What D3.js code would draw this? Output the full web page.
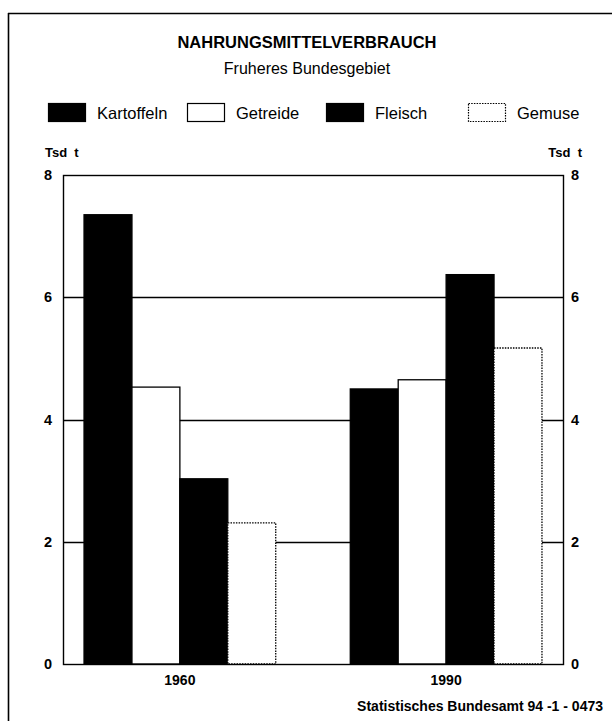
<!DOCTYPE html>
<html>
<head>
<meta charset="utf-8">
<script src="https://cdn.jsdelivr.net/npm/d3@7"></script>
<style>
  html, body { margin: 0; padding: 0; background: #fff; }
  svg { display: block; font-family: "Liberation Sans", Arial, Helvetica, sans-serif; }
</style>
</head>
<body>
<svg id="chart" width="612" height="721"></svg>
<script>
// ---- data ----
const years = ["1960", "1990"];
const series = ["Kartoffeln", "Getreide", "Fleisch", "Gemuse"];
const kartoffeln = [7.35, 4.50];
const getreide   = [4.53, 4.65];
const fleisch    = [3.03, 6.37];
const gemuse     = [2.31, 5.17];
const yTicks = [0, 2, 4, 6, 8];
const title = "NAHRUNGSMITTELVERBRAUCH";
const subtitle = "Fruheres Bundesgebiet";
const unitLabel = "Tsd  t";
const sourceText = "Statistisches Bundesamt 94 -1 - 0473";

const values = { Kartoffeln: kartoffeln, Getreide: getreide, Fleisch: fleisch, Gemuse: gemuse };
const styles = {
  Kartoffeln: { fill: "#000", stroke: "#000", dash: null },
  Getreide:   { fill: "#fff", stroke: "#000", dash: null },
  Fleisch:    { fill: "#000", stroke: "#000", dash: null },
  Gemuse:     { fill: "#fff", stroke: "#000", dash: "1.5,1.2" }
};

const svg = d3.select("#chart");
const W = 612, H = 721;
const plot = { left: 63, right: 563, top: 175, bottom: 664 };

// outer frame
svg.append("line").attr("x1", 8.5).attr("x2", 8.5).attr("y1", 13).attr("y2", H)
  .attr("stroke", "#000").attr("stroke-width", 1.6);
svg.append("line").attr("x1", 8).attr("x2", W).attr("y1", 13.5).attr("y2", 13.5)
  .attr("stroke", "#000").attr("stroke-width", 1.6);

// titles
svg.append("text").attr("x", 307).attr("y", 48).attr("text-anchor", "middle")
  .attr("font-size", 16.5).attr("font-weight", "bold").text(title);
svg.append("text").attr("x", 307).attr("y", 74).attr("text-anchor", "middle")
  .attr("font-size", 16).text(subtitle);

// legend
const legendX = [48, 187, 326, 468];
series.forEach((s, i) => {
  const g = svg.append("g").attr("transform", `translate(${legendX[i]},103)`);
  g.append("rect").attr("x", 0.5).attr("y", 0.5).attr("width", 37).attr("height", 18)
    .attr("fill", styles[s].fill).attr("stroke", styles[s].stroke)
    .attr("stroke-width", 1.2).attr("stroke-dasharray", styles[s].dash);
  g.append("text").attr("x", 49).attr("y", 15.5).attr("font-size", 16.5).text(s);
});

// scales
const y = d3.scaleLinear().domain([0, 8]).range([plot.bottom, plot.top]);
const x0 = d3.scaleBand().domain(years).range([plot.left, plot.right])
  .paddingInner(0.28).paddingOuter(0.079);
const x1 = d3.scaleBand().domain(series).range([0, x0.bandwidth()]).padding(0);

// gridlines
svg.append("g").selectAll("line").data(yTicks.filter(t => t > 0 && t < 8)).join("line")
  .attr("x1", plot.left).attr("x2", plot.right)
  .attr("y1", d => Math.round(y(d)) + 0.5).attr("y2", d => Math.round(y(d)) + 0.5)
  .attr("stroke", "#000").attr("stroke-width", 1.3);

// bars
const bars = [];
years.forEach((yr, yi) => series.forEach(s => bars.push({ year: yr, s, v: values[s][yi] })));
svg.append("g").selectAll("rect").data(bars).join("rect")
  .attr("x", d => x0(d.year) + x1(d.s))
  .attr("y", d => y(d.v))
  .attr("width", x1.bandwidth())
  .attr("height", d => y(0) - y(d.v))
  .attr("fill", d => styles[d.s].fill)
  .attr("stroke", d => styles[d.s].stroke)
  .attr("stroke-width", 1.3)
  .attr("stroke-dasharray", d => styles[d.s].dash);

// plot border
svg.append("rect").attr("x", plot.left + 0.5).attr("y", plot.top + 0.5)
  .attr("width", plot.right - plot.left).attr("height", plot.bottom - plot.top)
  .attr("fill", "none").attr("stroke", "#000").attr("stroke-width", 1.4);

// axes
const leftAxis = svg.append("g").attr("transform", `translate(${plot.left},0)`)
  .call(d3.axisLeft(y).tickValues(yTicks).tickSize(0).tickPadding(11).tickFormat(d3.format("d")));
const rightAxis = svg.append("g").attr("transform", `translate(${plot.right},0)`)
  .call(d3.axisRight(y).tickValues(yTicks).tickSize(0).tickPadding(8).tickFormat(d3.format("d")));
const bottomAxis = svg.append("g").attr("transform", `translate(0,${plot.bottom})`)
  .call(d3.axisBottom(x0).tickSize(0).tickPadding(11));
[leftAxis, rightAxis, bottomAxis].forEach(a => {
  a.select(".domain").remove();
  a.selectAll("text").attr("font-family", "Liberation Sans, Arial, sans-serif")
    .attr("font-weight", "bold").attr("fill", "#000");
});
leftAxis.selectAll("text").attr("font-size", 14.5);
rightAxis.selectAll("text").attr("font-size", 14.5);
bottomAxis.selectAll("text").attr("font-size", 14);

// unit labels
svg.append("text").attr("x", 45).attr("y", 157).attr("font-size", 13).attr("font-weight", "bold")
  .style("white-space", "pre").text(unitLabel);
svg.append("text").attr("x", 582).attr("y", 157).attr("text-anchor", "end").attr("font-size", 13)
  .attr("font-weight", "bold").style("white-space", "pre").text(unitLabel);

// source
svg.append("text").attr("x", 603).attr("y", 711).attr("text-anchor", "end")
  .attr("font-size", 14).attr("font-weight", "bold").text(sourceText);
</script>
</body>
</html>
